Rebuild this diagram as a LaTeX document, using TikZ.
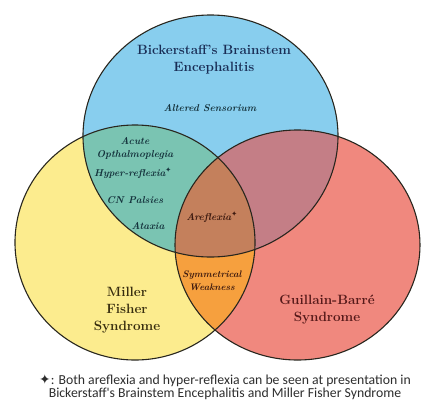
\documentclass[tikz,border=0pt]{standalone}
\usepackage{fontspec}
\newfontfamily\capfont{Carlito}
\newfontfamily\symfont{DejaVu Sans}
\usetikzlibrary{positioning}
\definecolor{bbefill}{RGB}{136,206,238}
\definecolor{mfsfill}{RGB}{252,236,142}
\definecolor{gbsfill}{RGB}{240,136,126}
\definecolor{bmfill}{RGB}{122,196,178}
\definecolor{bgfill}{RGB}{196,126,134}
\definecolor{mgfill}{RGB}{246,160,62}
\definecolor{allfill}{RGB}{196,128,92}
\definecolor{ringline}{RGB}{40,38,30}
\definecolor{bbetext}{RGB}{25,45,85}
\definecolor{itemtext}{RGB}{20,50,60}
\definecolor{mfstext}{RGB}{55,45,15}
\definecolor{gbstext}{RGB}{85,25,25}
\definecolor{alltext}{RGB}{60,25,15}
\definecolor{notetext}{RGB}{45,45,45}
\newcommand{\starsym}{\textsuperscript{\symfont ✦}}
\def\bbecirc{(210.5,136) ellipse [x radius=127.5, y radius=121]}
\def\mfscirc{(135,242.5) ellipse [x radius=120, y radius=117.5]}
\def\gbscirc{(297.5,245) ellipse [x radius=122.5, y radius=115]}
\tikzset{
    ring/.style={draw=ringline, line width=1.1pt},
    title/.style={font=\fontsize{13.5}{17}\selectfont\bfseries, align=center},
    item/.style={font=\fontsize{10}{13}\selectfont\bfseries\itshape, align=center, text=itemtext},
    small/.style={font=\fontsize{9.5}{13}\selectfont\bfseries\itshape, align=center}, % orange lens
    note/.style={font=\fontsize{13.8}{14}\selectfont\capfont, align=center, text=notetext}
}
\begin{document}
\begin{tikzpicture}[x=1bp, y=-1bp]
    \useasboundingbox (0,0) rectangle (424,406);
    % the three sets
    \fill[bbefill] \bbecirc;
    \fill[mfsfill] \mfscirc;
    \fill[gbsfill] \gbscirc;
    \begin{scope}
        \clip \bbecirc;
        \fill[bmfill] \mfscirc;
        \fill[bgfill] \gbscirc;
    \end{scope}
    \begin{scope}
        \clip \mfscirc;
        \fill[mgfill] \gbscirc;
    \end{scope}
    \begin{scope}
        \clip \bbecirc;
        \clip \mfscirc;
        \fill[allfill] \gbscirc;
    \end{scope}
    \draw[ring] \bbecirc;
    \draw[ring] \mfscirc;
    \draw[ring] \gbscirc;

    % labels
    \node[title, text=bbetext] (bbe) at (214,60) {Bickerstaff's Brainstem\\Encephalitis};
    \node[item] (altered) at (210,108) {Altered Sensorium};
    \node[item] (acute) at (135,148) {Acute\\Opthalmoplegia};
    \node[item] (hyper) at (133,173) {Hyper-reflexia\starsym};
    \node[item] (cnp) at (135,200) {CN Palsies};
    \node[item] (ataxia) at (148,226) {Ataxia};
    \node[item, text=alltext] (arefl) at (212,217) {Areflexia\starsym};
    \node[small, text=alltext] (symw) at (212,281) {Symmetrical\\Weakness};
    \node[title, text=mfstext] (mfs) at (127,310) {Miller\\Fisher\\Syndrome};
    \node[title, text=gbstext] (gbs) at (327,310) {Guillain-Barré\\Syndrome};
    \node[note] (fn) at (225,387) {{\symfont ✦}: Both areflexia and hyper-reflexia can be seen at presentation in\\Bickerstaff's Brainstem Encephalitis and Miller Fisher Syndrome};
\end{tikzpicture}
\end{document}
